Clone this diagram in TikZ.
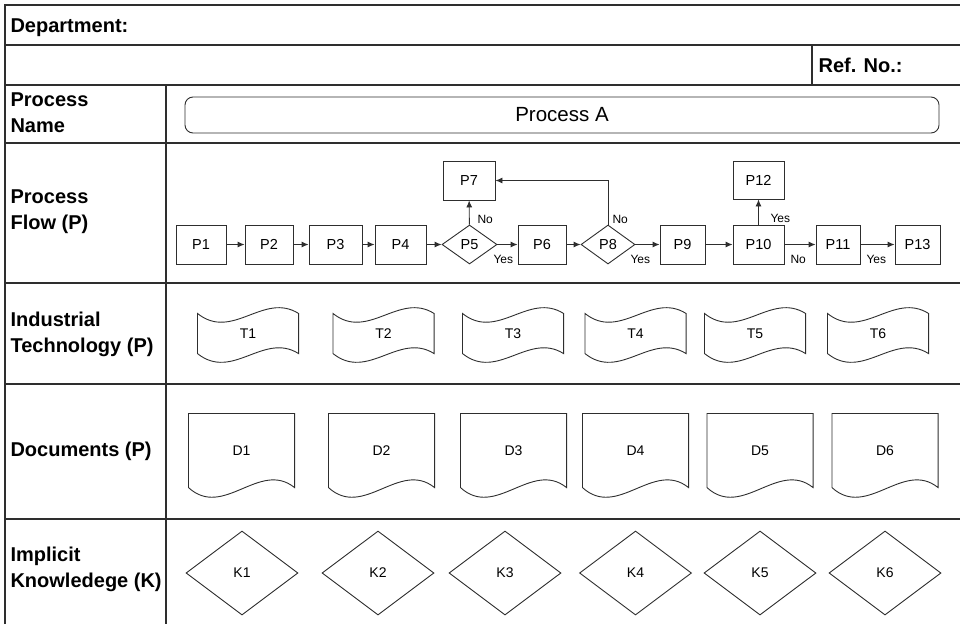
\documentclass[tikz,border=0pt]{standalone}
\usepackage{fontspec}
\setmainfont{Liberation Sans}
\usetikzlibrary{shapes.geometric,arrows.meta}
\definecolor{rule}{HTML}{2E2E2E}
\begin{document}
\begin{tikzpicture}[x=1pt,y=-1pt,line width=1.1pt,draw=rule,
  head/.style={font=\fontsize{20}{26}\selectfont\bfseries,inner sep=0pt,align=left},
  pbox/.style={draw,rectangle,font=\fontsize{14.5}{17}\selectfont,minimum height=39,inner sep=0pt,line width=0.9pt},
  pdec/.style={draw,diamond,font=\fontsize{14.5}{17}\selectfont,minimum width=55,minimum height=39,inner sep=0pt,line width=0.9pt},
  small/.style={font=\fontsize{12}{14}\selectfont,inner sep=0pt,anchor=base west},
  shp/.style={font=\fontsize{14}{17}\selectfont,inner sep=0pt},
  flow/.style={line width=0.9pt,-{Latex[length=7pt,width=6pt]}}]
\useasboundingbox (0,0) rectangle (960,624);
% table
\draw (5,624) -- (5,5) -- (960,5);
\draw (5,45) -- (960,45);
\draw (5,85) -- (960,85);
\draw (5,143) -- (960,143);
\draw (5,283) -- (960,283);
\draw (5,384) -- (960,384);
\draw (5,519) -- (960,519);
\draw (166,85) -- (166,624);
\draw (812,45) -- (812,85);
\node[head,anchor=base west] (dept) at (10,32) {Department:};
\node[head,anchor=base west] (refno) at (818,72) {Ref. No.:};
\node[head,anchor=west] (lname) at (10,112.5) {Process\\Name};
\node[head,anchor=west] (lflow) at (10,211.5) {Process\\Flow (P)};
\node[head,anchor=west] (ltech) at (10,334.7) {Industrial\\Technology (P)};
\node[head,anchor=base west] (ldoc) at (10,456) {Documents (P)};
\node[head,anchor=west] (lknow) at (10,569.3) {Implicit\\Knowledege (K)};
% process name
\node[draw,rounded corners=8pt,minimum width=754,minimum height=36,inner sep=0pt,line width=0.9pt,
  font=\fontsize{20.5}{24}\selectfont] (pa) at (562,115) {Process A};
% process flow
\node[pbox,minimum width=50] (p1) at (201,244.5) {P1};
\node[pbox,minimum width=48] (p2) at (269,244.5) {P2};
\node[pbox,minimum width=53] (p3) at (335.5,244.5) {P3};
\node[pbox,minimum width=51] (p4) at (400.5,244.5) {P4};
\node[pdec] (p5) at (469.5,244.5) {P5};
\node[pbox,minimum width=48] (p6) at (542,244.5) {P6};
\node[pbox,minimum width=52] (p7) at (469,180.5) {P7};
\node[pdec,minimum width=54] (p8) at (608,244.5) {P8};
\node[pbox,minimum width=45] (p9) at (682.5,244.5) {P9};
\node[pbox,minimum width=51] (p10) at (758.5,244.5) {P10};
\node[pbox,minimum width=44] (p11) at (838,244.5) {P11};
\node[pbox,minimum width=51,minimum height=38] (p12) at (758.5,180) {P12};
\node[pbox,minimum width=45] (p13) at (917.5,244.5) {P13};
\foreach \u/\v in {p1/p2,p2/p3,p3/p4,p4/p5,p5/p6,p6/p8,p8/p9,p9/p10,p10/p11,p11/p13}
  \draw[flow] (\u) -- (\v);
\draw[flow] (p5) -- (p7);
\draw[flow] (p8.north) |- (p7.east);
\draw[flow] (p10) -- (p12);
\node[small] (no5) at (477,223) {No};
\node[small] (yes5) at (493,263) {Yes};
\node[small] (no8) at (612,223) {No};
\node[small] (yes8) at (630,263) {Yes};
\node[small] (yes10) at (770,222) {Yes};
\node[small] (no10) at (790,263) {No};
\node[small] (yes11) at (866,263) {Yes};
% industrial technology
\foreach \x/\n in {248/1,383.5/2,513/3,635.5/4,755/5,878/6}{
  \node[shp,minimum width=100,minimum height=39] (t\n) at (\x,333.5) {T\n};
  \draw[line width=0.9pt] (t\n.north west) .. controls +(35,28) and +(-35,-22) .. (t\n.north east)
    -- (t\n.south east) .. controls +(-35,-22) and +(35,28) .. (t\n.south west) -- cycle;
}
% documents
\foreach \x/\n in {241.5/1,381.5/2,513.5/3,635.5/4,760/5,885/6}{
  \node[shp,minimum width=105,minimum height=73] (d\n) at (\x,450.5) {D\n};
  \draw[line width=0.9pt] (d\n.south west) -- (d\n.north west) -- (d\n.north east)
    -- (d\n.south east) .. controls +(-35,-28) and +(35,32) .. (d\n.south west);
}
% implicit knowledge
\foreach \x/\n in {242/1,378/2,505/3,635.5/4,760/5,885/6}
  \node[shp,draw,diamond,line width=0.9pt,minimum width=112,minimum height=84] (k\n) at (\x,573) {K\n};
\end{tikzpicture}
\end{document}
